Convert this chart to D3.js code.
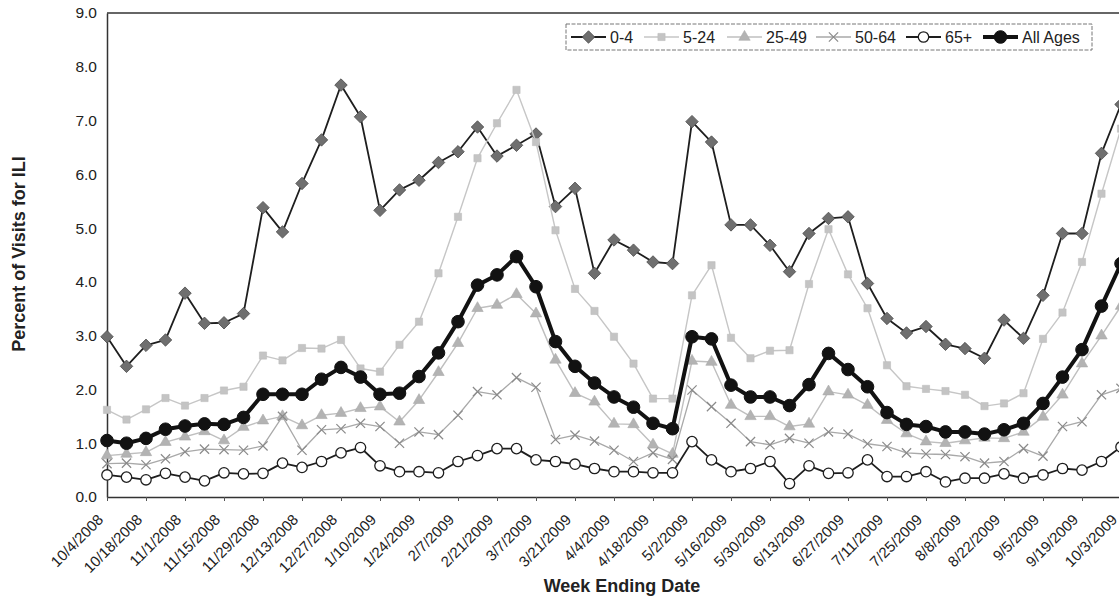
<!DOCTYPE html>
<html>
<head>
<meta charset="utf-8">
<script src="https://cdn.jsdelivr.net/npm/d3@7"></script>
<style>
  html, body { margin: 0; padding: 0; background: #fff; }
  svg { display: block; font-family: "Liberation Sans", Arial, sans-serif; }
</style>
</head>
<body>
<svg id="chart" width="1119" height="602"></svg>
<script>
// ---------- DATA ----------
const weeks = [
  "10/4/2008","10/11/2008","10/18/2008","10/25/2008","11/1/2008","11/8/2008","11/15/2008","11/22/2008",
  "11/29/2008","12/6/2008","12/13/2008","12/20/2008","12/27/2008","1/3/2009","1/10/2009","1/17/2009",
  "1/24/2009","1/31/2009","2/7/2009","2/14/2009","2/21/2009","2/28/2009","3/7/2009","3/14/2009",
  "3/21/2009","3/28/2009","4/4/2009","4/11/2009","4/18/2009","4/25/2009","5/2/2009","5/9/2009",
  "5/16/2009","5/23/2009","5/30/2009","6/6/2009","6/13/2009","6/20/2009","6/27/2009","7/4/2009",
  "7/11/2009","7/18/2009","7/25/2009","8/1/2009","8/8/2009","8/15/2009","8/22/2009","8/29/2009",
  "9/5/2009","9/12/2009","9/19/2009","9/26/2009","10/3/2009"
];
const tickLabels = weeks.filter((d, i) => i % 2 === 0);
const yTicks = [0, 1, 2, 3, 4, 5, 6, 7, 8, 9];

const age0_4 = [2.98,2.43,2.82,2.92,3.79,3.23,3.24,3.41,5.38,4.93,5.83,6.64,7.66,7.07,5.33,5.71,5.89,6.22,6.42,6.88,6.34,6.54,6.75,5.40,5.74,4.16,4.78,4.59,4.37,4.34,6.98,6.60,5.06,5.06,4.68,4.19,4.90,5.18,5.21,3.97,3.32,3.05,3.17,2.84,2.76,2.58,3.29,2.95,3.75,4.90,4.90,6.39,7.30];
const age5_24 = [1.62,1.44,1.63,1.84,1.70,1.84,1.98,2.05,2.63,2.54,2.77,2.76,2.92,2.39,2.33,2.83,3.26,4.16,5.21,6.30,6.95,7.57,6.60,4.96,3.87,3.46,2.98,2.48,1.83,1.83,3.75,4.31,2.96,2.58,2.72,2.73,3.96,4.98,4.14,3.51,2.45,2.06,2.01,1.97,1.90,1.69,1.74,1.93,2.94,3.43,4.37,5.64,6.85];
const age25_49 = [0.77,0.80,0.83,1.02,1.12,1.22,1.05,1.30,1.42,1.50,1.33,1.52,1.56,1.65,1.68,1.40,1.80,2.32,2.86,3.51,3.57,3.77,3.41,2.55,1.93,1.77,1.36,1.35,0.97,0.80,2.53,2.51,1.71,1.50,1.50,1.31,1.36,1.96,1.90,1.71,1.43,1.18,1.03,1.00,1.05,1.10,1.09,1.21,1.49,1.90,2.48,3.00,3.55];
const age50_64 = [0.62,0.63,0.60,0.71,0.84,0.89,0.88,0.87,0.95,1.50,0.87,1.25,1.27,1.37,1.31,1.00,1.21,1.16,1.52,1.96,1.90,2.22,2.04,1.07,1.15,1.04,0.87,0.66,0.82,0.70,1.99,1.68,1.37,1.03,0.97,1.09,1.00,1.21,1.17,0.99,0.94,0.82,0.80,0.79,0.75,0.63,0.66,0.90,0.76,1.31,1.40,1.90,2.02];
const age65plus = [0.41,0.37,0.32,0.44,0.37,0.30,0.45,0.43,0.44,0.63,0.55,0.66,0.82,0.92,0.58,0.47,0.47,0.45,0.66,0.77,0.90,0.90,0.69,0.66,0.61,0.53,0.47,0.47,0.45,0.45,1.03,0.69,0.47,0.53,0.66,0.25,0.58,0.44,0.45,0.69,0.38,0.38,0.47,0.28,0.35,0.35,0.43,0.35,0.41,0.53,0.50,0.66,0.93];
const allAges = [1.05,1.00,1.09,1.26,1.32,1.36,1.35,1.48,1.91,1.91,1.91,2.19,2.41,2.23,1.91,1.93,2.24,2.68,3.26,3.94,4.13,4.47,3.91,2.89,2.43,2.12,1.86,1.67,1.37,1.27,2.98,2.94,2.08,1.86,1.86,1.70,2.09,2.67,2.37,2.05,1.57,1.35,1.31,1.21,1.21,1.17,1.25,1.37,1.74,2.23,2.74,3.55,4.34];

const seriesNames = ["0-4", "5-24", "25-49", "50-64", "65+", "All Ages"];
const seriesValues = [age0_4, age5_24, age25_49, age50_64, age65plus, allAges];

// ---------- STYLES ----------
const diamond = { draw(ctx, size) { const r = Math.sqrt(size / 2); ctx.moveTo(0, -r); ctx.lineTo(r, 0); ctx.lineTo(0, r); ctx.lineTo(-r, 0); ctx.closePath(); } };
const xMark = { draw(ctx, size) { const r = Math.sqrt(size) / 2; ctx.moveTo(-r, -r); ctx.lineTo(r, r); ctx.moveTo(r, -r); ctx.lineTo(-r, r); } };
const styles = [
  { line: "#1e1e1e", lw: 1.8, sym: diamond, size: 78, fill: "#6f6f6f", stroke: "#4a4a4a", sw: 0.8 },
  { line: "#c6c6c6", lw: 1.4, sym: d3.symbolSquare, size: 52, fill: "#c4c4c4", stroke: "#bdbdbd", sw: 0.6 },
  { line: "#bfbfbf", lw: 1.4, sym: d3.symbolTriangle, size: 56, fill: "#b3b3b3", stroke: "#aaaaaa", sw: 0.6 },
  { line: "#a9a9a9", lw: 1.3, sym: xMark, size: 85, fill: "none", stroke: "#8a8a8a", sw: 1.2 },
  { line: "#1e1e1e", lw: 1.8, sym: d3.symbolCircle, size: 85, fill: "#ffffff", stroke: "#1e1e1e", sw: 1.3 },
  { line: "#121212", lw: 4, sym: d3.symbolCircle, size: 125, fill: "#121212", stroke: "#121212", sw: 1 }
];

// ---------- LAYOUT ----------
const svg = d3.select("#chart");
const pLeft = 107, pRight = 1121, pTop = 13, pBottom = 497;

const x = d3.scalePoint().domain(weeks).range([pLeft, pRight]);
const y = d3.scaleLinear().domain([0, 9]).range([pBottom, pTop]);

// plot frame (top border)
svg.append("line").attr("x1", pLeft).attr("x2", 1125).attr("y1", pTop).attr("y2", pTop)
  .attr("stroke", "#333").attr("stroke-width", 1.5);

// y axis
const yAxis = svg.append("g").attr("transform", `translate(${pLeft},0)`)
  .call(d3.axisLeft(y).tickValues(yTicks).tickFormat(d3.format(".1f")).tickSize(0).tickPadding(10));
yAxis.select(".domain").attr("stroke", "#333").attr("stroke-width", 1.5);
yAxis.selectAll("text").attr("font-size", 15.5).attr("fill", "#222");

// x axis
const xAxis = svg.append("g").attr("transform", `translate(0,${pBottom})`)
  .call(d3.axisBottom(x).tickValues(tickLabels).tickSize(4).tickSizeOuter(0));
xAxis.select(".domain").attr("stroke", "#333").attr("stroke-width", 1.5).attr("d", `M${pLeft},0.5H1125`);
xAxis.selectAll(".tick line").attr("stroke", "#555");
xAxis.selectAll("text")
  .attr("font-size", 15).attr("fill", "#222")
  .attr("text-anchor", "end")
  .attr("transform", "translate(-7,20) rotate(-45)")
  .attr("dy", "0.35em").attr("y", 0).attr("x", 0);

// axis titles
svg.append("text").attr("x", 622).attr("y", 592).attr("text-anchor", "middle")
  .attr("font-size", 18).attr("font-weight", "bold").attr("fill", "#222").text("Week Ending Date");
svg.append("text").attr("transform", "translate(25,254) rotate(-90)").attr("text-anchor", "middle")
  .attr("font-size", 18).attr("font-weight", "bold").attr("fill", "#222").text("Percent of Visits for ILI");

// series
const lineGen = d3.line().x((d, i) => x(weeks[i])).y(d => y(d));
const plot = svg.append("g");
seriesValues.forEach((vals, k) => {
  const st = styles[k];
  const g = plot.append("g");
  g.append("path").datum(vals).attr("d", lineGen)
    .attr("fill", "none").attr("stroke", st.line).attr("stroke-width", st.lw).attr("stroke-linejoin", "round");
  g.selectAll("path.m").data(vals).join("path").attr("class", "m")
    .attr("transform", (d, i) => `translate(${x(weeks[i])},${y(d)})`)
    .attr("d", d3.symbol().type(st.sym).size(st.size))
    .attr("fill", st.fill).attr("stroke", st.stroke).attr("stroke-width", st.sw);
});

// legend
const legendStarts = [571, 644, 727, 816, 906, 983];
const lg = svg.append("g");
lg.append("rect").attr("x", 566).attr("y", 24).attr("width", 526).attr("height", 26)
  .attr("fill", "#fff").attr("stroke", "#777").attr("stroke-width", 1).attr("stroke-dasharray", "4,1.5");
seriesNames.forEach((name, k) => {
  const st = styles[k];
  const x0 = legendStarts[k], ly = 37;
  lg.append("line").attr("x1", x0).attr("x2", x0 + 35).attr("y1", ly).attr("y2", ly)
    .attr("stroke", st.line).attr("stroke-width", st.lw);
  lg.append("path").attr("transform", `translate(${x0 + 17.5},${ly})`)
    .attr("d", d3.symbol().type(st.sym).size(st.size))
    .attr("fill", st.fill).attr("stroke", st.stroke).attr("stroke-width", st.sw);
  lg.append("text").attr("x", x0 + 39).attr("y", ly + 6).attr("font-size", 16).attr("fill", "#222").text(name);
});
</script>
</body>
</html>
